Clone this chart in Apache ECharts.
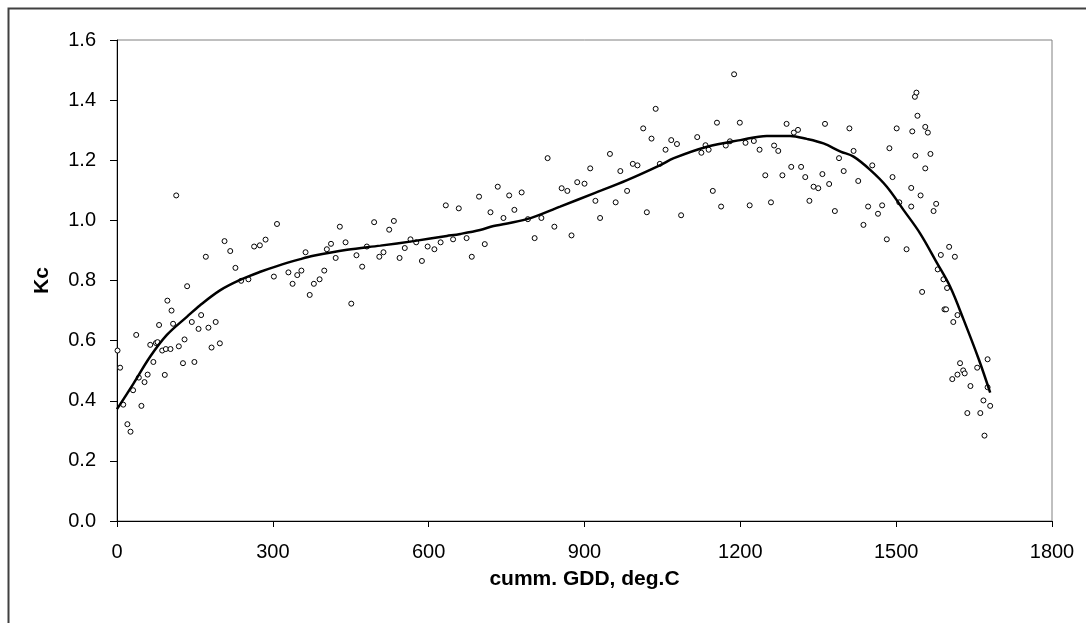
<!DOCTYPE html>
<html>
<head>
<meta charset="utf-8">
<script src="https://cdn.jsdelivr.net/npm/echarts@6/dist/echarts.min.js"></script>
<style>
html,body{margin:0;padding:0;background:#fff;}
#chart{width:1086px;height:623px;}
</style>
</head>
<body>
<div id="chart"></div>
<script>
var obsGDD = [1,6,12,20,26,31,37,42,47,53,59,64,70,75,78,81,87,92,94,97,103,105,108,114,119,127,130,135,144,149,157,162,171,176,182,190,198,207,218,228,239,253,264,275,286,302,308,330,338,347,355,363,371,379,390,399,404,412,421,429,440,451,461,472,481,495,505,513,524,533,544,554,565,576,587,598,611,623,633,647,658,673,683,697,708,719,733,744,755,765,779,791,804,817,829,842,856,867,875,886,900,911,921,930,949,960,969,982,993,1002,1013,1020,1029,1037,1045,1056,1067,1078,1086,1117,1125,1133,1139,1147,1155,1163,1172,1180,1188,1199,1210,1218,1226,1237,1248,1259,1265,1273,1281,1289,1298,1303,1311,1317,1325,1333,1341,1350,1358,1363,1371,1382,1390,1399,1410,1418,1427,1437,1446,1454,1465,1473,1482,1487,1493,1501,1506,1520,1529,1529,1531,1536,1537,1539,1541,1547,1550,1556,1556,1561,1566,1572,1577,1580,1586,1591,1593,1596,1598,1602,1608,1610,1613,1618,1618,1623,1629,1632,1637,1643,1656,1662,1668,1670,1676,1676,1681];
var obsKc = [0.567,0.510,0.387,0.322,0.297,0.435,0.619,0.477,0.383,0.462,0.487,0.586,0.529,0.592,0.595,0.652,0.567,0.486,0.572,0.733,0.572,0.700,0.656,1.083,0.581,0.525,0.604,0.781,0.662,0.529,0.639,0.685,0.879,0.643,0.577,0.662,0.591,0.931,0.898,0.842,0.799,0.804,0.913,0.917,0.936,0.813,0.988,0.827,0.789,0.818,0.833,0.894,0.752,0.789,0.804,0.833,0.904,0.922,0.875,0.979,0.927,0.723,0.884,0.846,0.913,0.994,0.879,0.894,0.969,0.998,0.875,0.908,0.937,0.927,0.865,0.913,0.904,0.927,1.050,0.937,1.040,0.941,0.879,1.079,0.921,1.027,1.112,1.008,1.083,1.035,1.093,1.004,0.941,1.008,1.207,0.979,1.107,1.098,0.950,1.127,1.122,1.173,1.065,1.008,1.221,1.060,1.164,1.098,1.188,1.183,1.306,1.027,1.272,1.371,1.188,1.235,1.267,1.254,1.017,1.277,1.225,1.250,1.235,1.098,1.325,1.046,1.249,1.263,1.486,1.325,1.258,1.050,1.264,1.235,1.150,1.060,1.249,1.231,1.150,1.321,1.178,1.292,1.301,1.178,1.144,1.065,1.112,1.107,1.154,1.321,1.121,1.031,1.207,1.164,1.306,1.231,1.131,0.985,1.046,1.183,1.022,1.050,0.937,1.240,1.144,1.306,1.060,0.904,1.046,1.108,1.296,1.411,1.215,1.425,1.348,1.083,0.762,1.311,1.173,1.292,1.221,1.031,1.055,0.837,0.885,0.804,0.704,0.704,0.775,0.912,0.472,0.662,0.879,0.685,0.487,0.525,0.501,0.491,0.359,0.449,0.510,0.359,0.401,0.284,0.538,0.445,0.383];
var fitGDD = [0,32,64,96,135,160,199,237,276,308,353,378,443,507,571,635,661,699,725,789,853,918,982,1046,1072,1136,1200,1251,1296,1328,1360,1393,1418,1450,1482,1514,1546,1579,1604,1630,1659,1681];
var fitKc = [0.372,0.458,0.547,0.619,0.680,0.718,0.768,0.802,0.829,0.848,0.871,0.882,0.902,0.916,0.931,0.948,0.955,0.968,0.981,1.004,1.046,1.090,1.134,1.184,1.207,1.245,1.267,1.281,1.281,1.271,1.256,1.229,1.212,1.168,1.112,1.035,0.957,0.857,0.779,0.669,0.538,0.427];
var xTitle = 'cumm. GDD, deg.C';
var yTitle = 'Kc';

var chart = echarts.init(document.getElementById('chart'), null, {renderer: 'canvas'});
var scatterData = obsGDD.map(function (g, i) { return [g, obsKc[i]]; });
var fitData = fitGDD.map(function (g, i) { return [g, fitKc[i]]; });
var fontFam = '"Liberation Sans", Arial, sans-serif';

chart.setOption({
  animation: false,
  backgroundColor: '#ffffff',
  graphic: [{
    type: 'rect', left: 6, top: 6, z: -10,
    shape: {x: 0, y: 0, width: 1200, height: 800},
    style: {fill: 'none', stroke: '#404040', lineWidth: 2}
  }],
  grid: {left: 117, top: 40, right: 34, bottom: 102, show: true, borderColor: '#808080', borderWidth: 1, backgroundColor: 'transparent'},
  xAxis: {
    type: 'value', min: 0, max: 1800, interval: 300,
    name: xTitle, nameLocation: 'middle', nameGap: 48,
    nameTextStyle: {fontFamily: fontFam, fontWeight: 'bold', fontSize: 21, color: '#000'},
    axisLine: {show: true, onZero: false, lineStyle: {color: '#000', width: 1}},
    axisTick: {show: true, inside: false, length: 6, lineStyle: {color: '#000'}},
    axisLabel: {fontFamily: fontFam, fontSize: 20, color: '#000', margin: 21,
      formatter: function (v) { return String(v); }},
    splitLine: {show: false}
  },
  yAxis: {
    type: 'value', min: 0, max: 1.6, interval: 0.2,
    name: yTitle, nameLocation: 'middle', nameGap: 64, nameRotate: 90,
    nameTextStyle: {fontFamily: fontFam, fontWeight: 'bold', fontSize: 21, color: '#000'},
    axisLine: {show: true, onZero: false, lineStyle: {color: '#000', width: 1}},
    axisTick: {show: true, inside: false, length: 7, lineStyle: {color: '#000'}},
    axisLabel: {fontFamily: fontFam, fontSize: 20, color: '#000', margin: 21,
      formatter: function (v) { return v.toFixed(1); }},
    splitLine: {show: false}
  },
  series: [
    {
      type: 'scatter', data: scatterData, symbol: 'circle', symbolSize: 5,
      itemStyle: {color: '#ffffff', borderColor: '#000000', borderWidth: 1, opacity: 1},
      z: 2
    },
    {
      type: 'line', data: fitData, smooth: 0.35, showSymbol: false, symbol: 'none',
      lineStyle: {color: '#000000', width: 2.5},
      z: 3
    }
  ]
});
</script>
</body>
</html>
